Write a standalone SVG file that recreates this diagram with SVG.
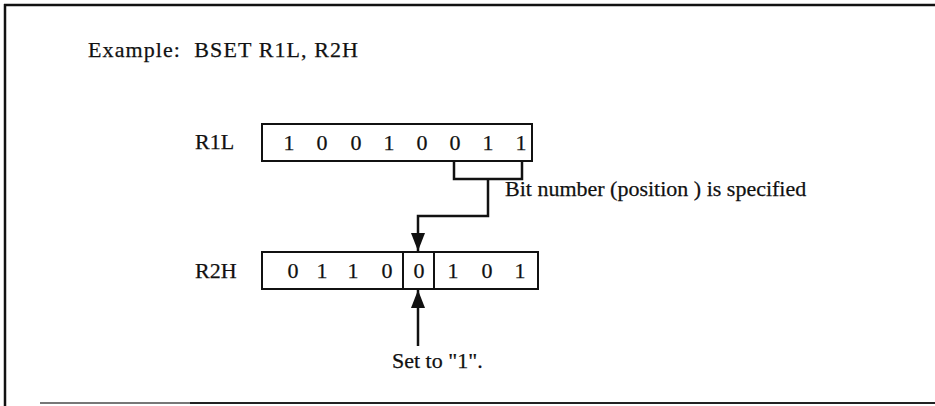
<svg xmlns="http://www.w3.org/2000/svg" width="935" height="406" viewBox="0 0 935 406">
  <style>
    .t { font-family: "Liberation Serif", "Times New Roman", serif; font-size: 22px; fill: #111; stroke: #111; stroke-width: 0.25; }
    .bit { text-anchor: middle; }
    .box { fill: none; stroke: #111; stroke-width: 2; }
    .wire { fill: none; stroke: #111; stroke-width: 2.5; }
    .frame { fill: none; stroke: #111; stroke-width: 2.5; }
  </style>
  <defs>
    <marker id="head" viewBox="0 0 18 14" refX="18" refY="7" markerWidth="18" markerHeight="14" markerUnits="userSpaceOnUse" orient="auto">
      <path d="M0,0 L18,7 L0,14 Z" fill="#111"/>
    </marker>
  </defs>
  <rect width="935" height="406" fill="#fff"/>

  <!-- outer frame: top, left and bottom edges -->
  <g id="frame">
    <line class="frame" x1="4" y1="5" x2="935" y2="5"/>
    <line class="frame" x1="5" y1="4" x2="5" y2="406"/>
    <line x1="40" y1="403" x2="190" y2="403" stroke="#777" stroke-width="2"/>
    <line x1="190" y1="403" x2="935" y2="403" stroke="#222" stroke-width="2"/>
  </g>

  <g id="title">
    <text class="t" x="88" y="57" font-size="24" textLength="270" lengthAdjust="spacing" style="white-space:pre">Example:  BSET R1L, R2H</text>
  </g>

  <!-- source register -->
  <g id="r1l">
    <text class="t" x="195" y="149">R1L</text>
    <rect class="box" x="262" y="124" width="270" height="37"/>
    <text class="t bit" y="150">
      <tspan x="289">1</tspan><tspan x="322">0</tspan><tspan x="356">0</tspan><tspan x="389">1</tspan><tspan x="422">0</tspan><tspan x="455">0</tspan><tspan x="488">1</tspan><tspan x="521">1</tspan>
    </text>
  </g>

  <!-- destination register, bit 3 boxed -->
  <g id="r2h">
    <text class="t" x="195" y="278">R2H</text>
    <rect class="box" x="262" y="252" width="276" height="37"/>
    <line class="box" x1="403" y1="252" x2="403" y2="289"/>
    <line class="box" x1="434" y1="252" x2="434" y2="289"/>
    <text class="t bit" y="278">
      <tspan x="293">0</tspan><tspan x="322">1</tspan><tspan x="353">1</tspan><tspan x="387">0</tspan><tspan x="419">0</tspan><tspan x="453">1</tspan><tspan x="487">0</tspan><tspan x="520">1</tspan>
    </text>
  </g>

  <g id="bit-label">
    <text class="t" x="505" y="196">Bit number (position ) is specified</text>
  </g>

  <g id="set-label">
    <text class="t" x="392" y="368">Set to "1".</text>
  </g>

  <g id="connectors">
    <!-- bracket over bits 2..0 of R1L -->
    <polyline class="wire" points="454,161 454,179 522,179 522,161"/>
    <!-- bit number routed down to R2H -->
    <polyline class="wire" points="488,179 488,216 418,216 418,251" marker-end="url(#head)"/>
    <!-- set arrow from below -->
    <line class="wire" x1="418" y1="346" x2="418" y2="290" marker-end="url(#head)"/>
  </g>
</svg>
